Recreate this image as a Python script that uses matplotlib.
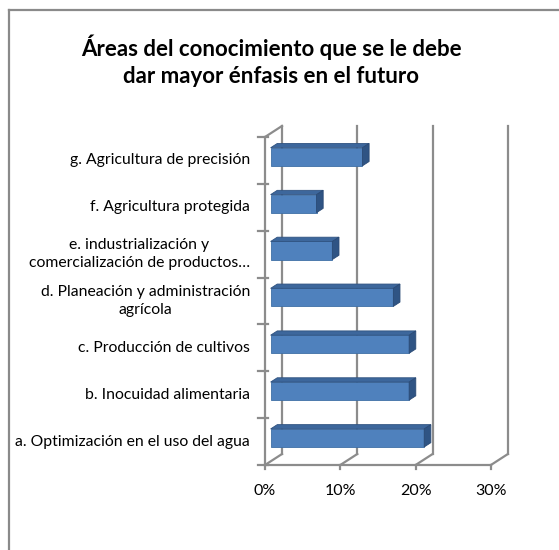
import matplotlib
matplotlib.use('Agg')
import matplotlib.pyplot as plt
from matplotlib.patches import Polygon, Rectangle
from matplotlib.lines import Line2D

plt.rcParams['font.family'] = ['Lato', 'DejaVu Sans']

# Datos: fracción de respuestas por área
categorias = ['a. Optimización en el uso del agua',
              'b. Inocuidad alimentaria',
              'c. Producción de cultivos',
              'd. Planeación y administración\nagrícola',
              'e. industrialización y\ncomercialización de productos…',
              'f. Agricultura protegida',
              'g. Agricultura de precisión']
valores = [0.204, 0.184, 0.184, 0.163, 0.082, 0.061, 0.122]
ticks_x = [0.0, 0.1, 0.2, 0.3]
ticks_txt = ['0%', '10%', '20%', '30%']
titulo = 'Áreas del conocimiento que se le debe\ndar mayor énfasis en el futuro'

W, H = 559, 550
fig = plt.figure(figsize=(W / 100, H / 100), dpi=100)

# ejes en toda la figura; origen del plano frontal en (265, 465) px
x0_px, y0_px = 265, 465
px_x = 753.0      # px por unidad de x (1.0 = 100%)
px_y = 46.86      # px por categoría
ax = fig.add_axes([0, 0, 1, 1])
ax.set_xlim(-x0_px / px_x, (W - x0_px) / px_x)
ax.set_ylim(-(H - y0_px) / px_y, y0_px / px_y)
ax.axis('off')

# profundidad del efecto 3D
DX = 17 / px_x
DY = 11 / px_y
n = len(categorias)
gris = '#8c8c8c'
lw = 1.6

# pared del fondo y suelo
for t in ticks_x:
    ax.plot([t + DX, t + DX], [DY, n + DY], color=gris, lw=lw, zorder=1)
    ax.plot([t, t + DX], [0, DY], color=gris, lw=lw, zorder=1)
    ax.plot([t, t], [0, -0.09], color=gris, lw=lw, zorder=1)
ax.plot([0, ticks_x[-1]], [0, 0], color=gris, lw=lw, zorder=1)
# pared izquierda
ax.plot([0, 0], [0, n], color=gris, lw=lw, zorder=1)
ax.plot([0, DX], [n, n + DY], color=gris, lw=lw, zorder=1)
for k in range(n + 1):
    ax.plot([-0.009, 0.004], [k, k], color=gris, lw=lw, zorder=1)

# barras 3D
f0, f1 = 0.33, 0.72
h = 0.385
c_frente = '#4f81bd'
c_arriba = '#3d679c'
c_lado = '#2f5484'
for i, v in enumerate(valores):
    ox, oy = f0 * DX, f0 * DY
    dx, dy = (f1 - f0) * DX, (f1 - f0) * DY
    yb = i + 0.5 - h / 2 + oy
    yt = yb + h
    ax.add_patch(Rectangle((ox, yb), v, h, facecolor=c_frente,
                           edgecolor='#3f6fa6', lw=0.6, zorder=3))
    ax.add_patch(Polygon([(ox, yt), (ox + v, yt), (ox + v + dx, yt + dy),
                          (ox + dx, yt + dy)], closed=True,
                         facecolor=c_arriba, edgecolor='#2f5280', lw=0.6, zorder=3))
    ax.add_patch(Polygon([(ox + v, yb), (ox + v, yt), (ox + v + dx, yt + dy),
                          (ox + v + dx, yb + dy)], closed=True,
                         facecolor=c_lado, edgecolor='#2a4a75', lw=0.6, zorder=3))

# etiquetas de categorías
for i, txt in enumerate(categorias):
    ax.text(-15 / px_x, i + 0.5, txt, ha='right', va='center',
            multialignment='center', fontsize=11.3, color='black',
            linespacing=1.35)

# etiquetas del eje x
for t, s in zip(ticks_x, ticks_txt):
    ax.text(t, -26 / px_y, s, ha='center', va='center', fontsize=11.5)

# título
fig.text(271 / W, 1 - 61 / H, titulo, ha='center', va='center',
         fontsize=16, fontweight='bold', linespacing=1.35)

# marco del gráfico
fig.add_artist(Line2D([9 / W, 9 / W], [0, 1 - 10 / H], transform=fig.transFigure,
                      color='#8a8a8a', lw=1.6))
fig.add_artist(Line2D([9 / W, 1], [1 - 10 / H, 1 - 10 / H], transform=fig.transFigure,
                      color='#8a8a8a', lw=1.6))

fig.savefig('out.png', dpi=100, facecolor='white')
